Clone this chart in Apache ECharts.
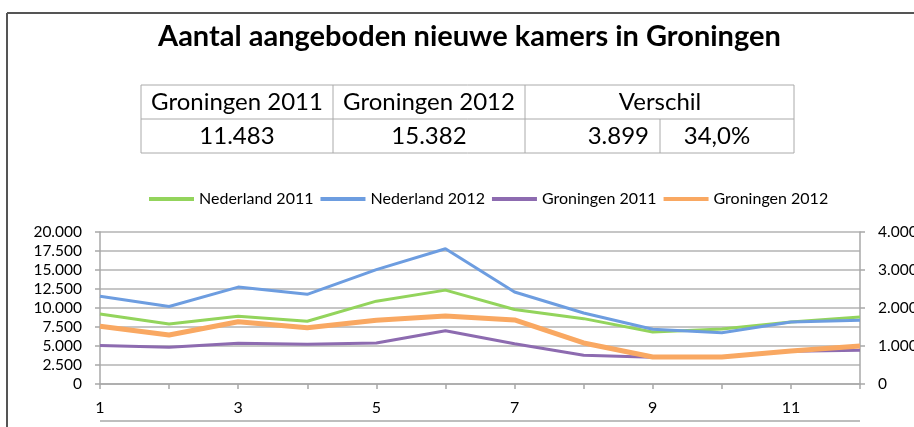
<!DOCTYPE html>
<html>
<head>
<meta charset="utf-8">
<script src="https://cdn.jsdelivr.net/npm/echarts@6/dist/echarts.min.js"></script>
<style>
  html, body { margin: 0; padding: 0; background: #fff; }
  #main { width: 914px; height: 427px; }
</style>
</head>
<body>
<div id="main"></div>
<script>
// maanden
const months = ['1', '2', '3', '4', '5', '6', '7', '8', '9', '10', '11', '12'];

const nederland2011 = [9200, 7900, 8900, 8250, 10900, 12350, 9800, 8600, 6850, 7250, 8150, 8800];
const nederland2012 = [11550, 10200, 12750, 11800, 15050, 17800, 12100, 9350, 7200, 6750, 8150, 8400];
const groningen2011 = [1010, 965, 1070, 1045, 1080, 1400, 1060, 755, 705, 705, 865, 885];
const groningen2012 = [1520, 1290, 1640, 1480, 1675, 1790, 1685, 1080, 710, 710, 870, 1000];

const seriesNames = ['Nederland 2011', 'Nederland 2012', 'Groningen 2011', 'Groningen 2012'];
const lineColors = ['#93d45c', '#6d9de0', '#8d6bb0', '#f9a862'];

// tabel boven de grafiek
const tableHeaders = ['Groningen 2011', 'Groningen 2012', 'Verschil'];
const tableValues = ['11.483', '15.382', '3.899', '34,0%'];

const fontFamily = 'Lato, "Open Sans", sans-serif';

function nlFormat(v) {
    return String(v).replace(/\B(?=(\d{3})+(?!\d))/g, '.');
}

let myChart = echarts.init(document.getElementById('main'));

// tabel: randen + teksten
const tblBorder = { stroke: '#aaaaaa', lineWidth: 1 };
const tableGraphics = [
    { type: 'rect', shape: { x: 141, y: 85, width: 653, height: 68 }, style: { fill: '#fff', stroke: '#aaaaaa', lineWidth: 1 } },
    { type: 'line', shape: { x1: 141, y1: 119, x2: 794, y2: 119 }, style: tblBorder },
    { type: 'line', shape: { x1: 333, y1: 85, x2: 333, y2: 153 }, style: tblBorder },
    { type: 'line', shape: { x1: 525, y1: 85, x2: 525, y2: 153 }, style: tblBorder },
    { type: 'line', shape: { x1: 660, y1: 119, x2: 660, y2: 153 }, style: tblBorder }
];
const headerCenters = [237, 429, 660];
tableHeaders.forEach(function (h, i) {
    tableGraphics.push({
        type: 'text', x: headerCenters[i], y: 102,
        style: { text: h, font: '24px ' + fontFamily, fill: '#000', textAlign: 'center', textVerticalAlign: 'middle' }
    });
});
const valuePos = [[237, 'center'], [429, 'center'], [649, 'right'], [717, 'center']];
tableValues.forEach(function (v, i) {
    tableGraphics.push({
        type: 'text', x: valuePos[i][0], y: 136,
        style: { text: v, font: '24px ' + fontFamily, fill: '#000', textAlign: valuePos[i][1], textVerticalAlign: 'middle' }
    });
});

const frameLine = { stroke: '#555555', lineWidth: 2 };

option = {
    backgroundColor: '#ffffff',
    animation: false,
    color: lineColors,
    title: {
        text: 'Aantal aangeboden nieuwe kamers in Groningen',
        left: 153,
        top: 17,
        textStyle: {
            fontFamily: fontFamily,
            fontWeight: 'bold',
            fontSize: 29,
            color: '#000'
        }
    },
    legend: {
        data: seriesNames,
        left: 144,
        top: 186,
        icon: 'rect',
        itemWidth: 45,
        itemHeight: 4,
        itemGap: 7,
        textStyle: {
            fontFamily: fontFamily,
            fontSize: 16,
            color: '#000'
        }
    },
    grid: {
        left: 100,
        right: 54,
        top: 232,
        bottom: 43,
        outerBoundsMode: 'none'
    },
    xAxis: {
        type: 'category',
        data: months,
        boundaryGap: false,
        axisLine: { lineStyle: { color: '#a8a8a8', width: 1.5 } },
        axisTick: { interval: 0, length: 5, lineStyle: { color: '#a8a8a8', width: 1.5 } },
        axisLabel: {
            interval: 1,
            margin: 16,
            fontFamily: fontFamily,
            fontSize: 16,
            color: '#000'
        },
        splitLine: { show: false }
    },
    yAxis: [
        {
            type: 'value',
            min: 0,
            max: 20000,
            interval: 2500,
            axisLine: { show: true, lineStyle: { color: '#a8a8a8', width: 1.5 } },
            axisTick: { show: true, length: 5, lineStyle: { color: '#a8a8a8', width: 1.5 } },
            axisLabel: {
                margin: 18,
                formatter: nlFormat,
                fontFamily: fontFamily,
                fontSize: 15.5,
                color: '#000'
            },
            splitLine: { lineStyle: { color: '#b3b3b3', width: 1.5 } }
        },
        {
            type: 'value',
            min: 0,
            max: 4000,
            interval: 1000,
            position: 'right',
            axisLine: { show: true, lineStyle: { color: '#a8a8a8', width: 1.5 } },
            axisTick: { show: true, length: 5, lineStyle: { color: '#a8a8a8', width: 1.5 } },
            axisLabel: {
                margin: 18,
                formatter: nlFormat,
                fontFamily: fontFamily,
                fontSize: 15.5,
                color: '#000'
            },
            splitLine: { show: false }
        }
    ],
    graphic: [
        { type: 'line', shape: { x1: 7, y1: 13, x2: 914, y2: 13 }, style: frameLine },
        { type: 'line', shape: { x1: 7, y1: 13, x2: 7, y2: 427 }, style: frameLine },
        { type: 'line', shape: { x1: 100, y1: 421, x2: 860, y2: 421 }, style: { stroke: '#a8a8a8', lineWidth: 1.5 } }
    ].concat(tableGraphics),
    series: [
        { name: seriesNames[0], type: 'line', data: nederland2011, showSymbol: false, lineStyle: { width: 3 }, z: 2 },
        { name: seriesNames[1], type: 'line', data: nederland2012, showSymbol: false, lineStyle: { width: 3 }, z: 3 },
        { name: seriesNames[2], type: 'line', yAxisIndex: 1, data: groningen2011, showSymbol: false, lineStyle: { width: 3 }, z: 4 },
        { name: seriesNames[3], type: 'line', yAxisIndex: 1, data: groningen2012, showSymbol: false, lineStyle: { width: 5 }, z: 5 }
    ]
};
myChart.setOption(option);
</script>
</body>
</html>
